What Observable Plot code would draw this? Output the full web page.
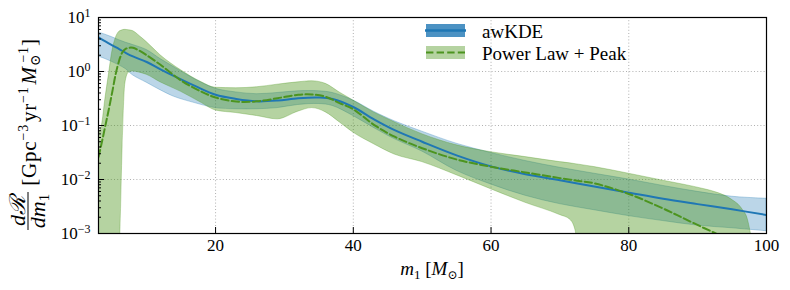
<!DOCTYPE html>
<html><head><meta charset="utf-8">
<script src="https://cdn.jsdelivr.net/npm/d3@7"></script>
<script src="https://cdn.jsdelivr.net/npm/@observablehq/plot@0.6"></script>
<style>
html,body{margin:0;padding:0;background:#fff;}
#chart{width:790px;height:290px;}
</style></head><body><div id="chart"></div>
<script>
// awKDE: primary mass grid, median and 90% band
const kdeM   = [3,4,5,6,7,8,10,12,14,17,20,23,26,29,32,35,37,40,43,46,50,55,60,65,70,75,80,85,90,95,100];
const kdeMed = [4.3,3.6,3.05,2.6,2.2,1.9,1.5,1.1,0.82,0.54,0.37,0.31,0.28,0.29,0.32,0.33,0.31,0.22,0.13,0.082,0.05,0.028,0.0175,0.0125,0.0097,0.0074,0.0057,0.0044,0.0035,0.0028,0.0022];
const kdeHi  = [5.3,4.8,4.3,3.8,3.4,3.1,2.5,1.7,1.2,0.72,0.48,0.41,0.38,0.4,0.43,0.43,0.4,0.29,0.18,0.12,0.077,0.046,0.031,0.022,0.0165,0.0128,0.0100,0.0076,0.0059,0.0048,0.0044];
const kdeLo  = [1.9,1.7,1.5,1.3,1.1,0.85,0.62,0.45,0.34,0.26,0.21,0.2,0.2,0.21,0.24,0.25,0.23,0.15,0.09,0.056,0.033,0.0145,0.0081,0.005,0.0035,0.0027,0.0021,0.0017,0.0014,0.00125,0.0011];

// Power Law + Peak: grid, median and 90% band
const plpM   = [3,3.5,4,4.5,5,5.5,6,6.2,6.5,6.9,7.4,8,9,10,12,15,18,20,23,26,29,32,34,36,38,40,43,46,50,55,60,65,70,71.5,72.3,72.8,75,80,85,88,91,93,95,96.5,97.3,97.8];
const plpMed = [0.026,0.05,0.1,0.2,0.42,0.9,1.6,1.9,2.3,2.6,2.75,2.75,2.4,2.0,1.33,0.68,0.42,0.33,0.277,0.28,0.32,0.37,0.375,0.34,0.26,0.2,0.103,0.062,0.038,0.0235,0.0172,0.0135,0.0106,0.0099,0.0096,0.0094,0.0085,0.0054,0.0029,0.0019,0.00125,0.00095,0.0007,0.0005,0.0004,0.0003];
const plpHi  = [0.07,0.1,0.31,0.85,2.3,4.1,5.4,5.6,5.8,5.9,5.8,5.6,4.5,3.5,2.0,1.05,0.63,0.5,0.49,0.51,0.57,0.63,0.66,0.59,0.41,0.29,0.175,0.115,0.069,0.043,0.032,0.026,0.021,0.0199,0.0192,0.0188,0.017,0.0128,0.0095,0.008,0.0066,0.0056,0.0042,0.0028,0.0018,0.0009];
const plpLo  = [0.0003,0.0003,0.0003,0.0003,0.0003,0.0003,0.0003,0.0013,0.04,0.6,0.95,1.0,0.95,0.87,0.63,0.42,0.26,0.19,0.17,0.15,0.13,0.18,0.21,0.175,0.115,0.074,0.045,0.029,0.021,0.012,0.0066,0.0037,0.0022,0.0018,0.0011,0.0003,0.0003,0.0003,0.0003,0.0003,0.0003,0.0003,0.0003,0.0003,0.0003,0.0003];

const xTicks = [20,40,60,80,100];
const xGrid  = [20,40,60,80];
const yMajor = [1e-3,1e-2,1e-1,1,10];
const yMinor = [2,3,4,5,6,7,8,9].flatMap(k => [1e-3,1e-2,1e-1,1].map(p => k*p));
const yGrid  = [1e-2,1e-1,1];

const kde = kdeM.map((m,i)=>({m, med:kdeMed[i], lo:kdeLo[i], hi:kdeHi[i]}));
const plp = plpM.map((m,i)=>({m, med:plpMed[i], lo:plpLo[i], hi:plpHi[i]}));

const blue = "#1f77b4", green = "#4c941f", greenFill = "#469214";
const serif = '"Liberation Serif", "DejaVu Serif", serif';

const plot = Plot.plot({
  width: 790, height: 290,
  marginLeft: 98, marginRight: 24, marginTop: 17, marginBottom: 57,
  style: {fontFamily: serif, fontSize: "17px", color: "black", background: "white", overflow: "visible"},
  x: {domain: [3, 100]},
  y: {type: "log", domain: [1e-3, 10]},
  marks: [
    Plot.gridX(xGrid, {stroke: "#b0b0b0", strokeOpacity: 1, strokeDasharray: "1,2.2"}),
    Plot.gridY(yGrid, {stroke: "#b0b0b0", strokeOpacity: 1, strokeDasharray: "1,2.2"}),
    Plot.areaY(kde, {x: "m", y1: "lo", y2: "hi", fill: blue, fillOpacity: 0.3, stroke: blue, strokeOpacity: 0.3, curve: "catmull-rom", clip: true}),
    Plot.areaY(plp, {x: "m", y1: "lo", y2: "hi", fill: greenFill, fillOpacity: 0.4, stroke: greenFill, strokeOpacity: 0.3, curve: "monotone-x", clip: true}),
    Plot.lineY(kde, {x: "m", y: "med", stroke: blue, strokeWidth: 2, curve: "catmull-rom", clip: true}),
    Plot.lineY(plp, {x: "m", y: "med", stroke: green, strokeWidth: 2, strokeDasharray: "7.4,3.2", curve: "catmull-rom", clip: true}),
    Plot.axisX(xTicks, {anchor: "bottom", tickSize: -6, tickPadding: 11, tickFormat: d => String(d), label: null}),
    Plot.axisY(yMajor, {anchor: "left", tickSize: -6, tickPadding: 14, tickFormat: d => "10^" + Math.round(Math.log10(d)), label: null}),
    Plot.axisY(yMinor, {anchor: "left", tickSize: -3, tickFormat: () => "", label: null}),
    Plot.frame({stroke: "black", strokeWidth: 1.2})
  ]
});
document.getElementById("chart").appendChild(plot);

const svg = d3.select(plot);
// superscript exponents on y tick labels
svg.selectAll('g[aria-label="y-axis tick label"] text').each(function(){
  const t = d3.select(this); const s = t.text();
  if (!s.includes("^")) return;
  const [b, e] = s.split("^");
  t.text(b);
  t.append("tspan").attr("dy", "-0.5em").attr("font-size", "12px").text(e.replace("-", "\u2212"));
});

// y-axis label (rotated)
const yl = svg.append("g").attr("transform", "translate(28,232) rotate(-90)").attr("font-family", serif).attr("fill", "black");
yl.append("text").attr("x", 21).attr("y", -3).attr("text-anchor", "middle").attr("font-size", 22).attr("font-style", "italic").text("d\u211B");
yl.append("line").attr("x1", 2).attr("x2", 40).attr("y1", 0).attr("y2", 0).attr("stroke", "black").attr("stroke-width", 1);
const den = yl.append("text").attr("x", 21).attr("y", 17).attr("text-anchor", "middle").attr("font-size", 22).attr("font-style", "italic");
den.append("tspan").text("dm");
den.append("tspan").attr("font-size", 15).attr("font-style", "normal").attr("dy", 4).text("1");
const br = yl.append("text").attr("x", 120).attr("y", 8).attr("text-anchor", "middle").attr("font-size", 21).attr("letter-spacing", 0.8);
br.append("tspan").text("[Gpc");
br.append("tspan").attr("dy", -8).attr("font-size", 14).text("\u22123");
br.append("tspan").attr("dy", 8).attr("dx", 2).text("yr");
br.append("tspan").attr("dy", -8).attr("font-size", 14).text("\u22121");
br.append("tspan").attr("dy", 8).attr("dx", 2).attr("font-style", "italic").text("M");
br.append("tspan").attr("dy", 4).attr("font-size", 14).text("\u2299");
br.append("tspan").attr("dy", -12).attr("dx", -9).attr("font-size", 14).text("\u22121");
br.append("tspan").attr("dy", 8).text("]");

// x-axis label
const xl = svg.append("text").attr("x", 432).attr("y", 275).attr("text-anchor", "middle").attr("font-size", 19).attr("font-family", serif).attr("fill", "black");
xl.append("tspan").attr("font-style", "italic").text("m");
xl.append("tspan").attr("font-size", 13).attr("dy", 4).text("1");
xl.append("tspan").attr("dy", -4).text(" [");
xl.append("tspan").attr("font-style", "italic").text("M");
xl.append("tspan").attr("font-size", 12).attr("dy", 4).text("\u2299");
xl.append("tspan").attr("dy", -4).text("]");

// legend
const lg = svg.append("g").attr("font-family", serif).attr("font-size", 19).attr("fill", "black").attr("text-anchor", "start");
lg.append("rect").attr("x", 426).attr("y", 24).attr("width", 39).attr("height", 13).attr("fill", blue).attr("fill-opacity", 0.8);
lg.append("line").attr("x1", 425).attr("x2", 466).attr("y1", 30.5).attr("y2", 30.5).attr("stroke", blue).attr("stroke-width", 2.5);
lg.append("text").attr("x", 482).attr("y", 38).text("awKDE");
lg.append("rect").attr("x", 426).attr("y", 46).attr("width", 39).attr("height", 13).attr("fill", greenFill).attr("fill-opacity", 0.4);
lg.append("line").attr("x1", 426).attr("x2", 465).attr("y1", 52.5).attr("y2", 52.5).attr("stroke", green).attr("stroke-width", 2).attr("stroke-dasharray", "7.4,3.2");
lg.append("text").attr("x", 482).attr("y", 60).text("Power Law + Peak");
</script></body></html>
